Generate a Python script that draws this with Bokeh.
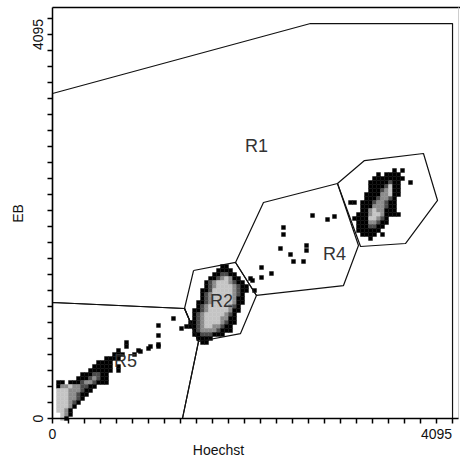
import math
from bokeh.plotting import figure
from bokeh.models import Range1d
from bokeh.core.properties import value
from bokeh.embed import file_html
from bokeh.resources import INLINE

FONT = "Liberation Sans"
PX = 4095 / 384          # channel units per screen pixel
BIN = 4095 / 96          # width of one display channel bin
X_END, Y_END = 4330, 4383

# Binned event density (top row first). '.' = no events, 1..4 = rising density.
r3_origin = (3114, 2666)
r3_rows = [
    "............1.1...",
    "........1.1111....",
    ".......11111111...",
    "......11111211..1.",
    "......11112411....",
    "......11123411....",
    ".....111133411....",
    ".....11123321.....",
    ".11.111233211.....",
    "....111333211.....",
    "....113433111.....",
    "...11134431111....",
    "..111144321.......",
    "...11133211.......",
    "...1112211........",
    "...111111.........",
    "....1111.1........",
    "......1...........",
]

r2_origin = (1408, 1642)
r2_rows = [
    ".........11.......",
    "........1111......",
    ".......112211.....",
    "......11234311..1.",
    ".....1234443211...",
    ".....12344443211..",
    "....112444443211.1",
    "....12344444321...",
    "....12344444311...",
    "...112344444311...",
    "...12344444321....",
    "..112344444311....",
    "..12344444321.....",
    "..12344443311.....",
    ".112344443211.....",
    ".11234433211......",
    "..1233332111......",
    "..11222111........",
    "...1111...........",
    "....11............",
]

r5_origin = (0, 832)
r5_rows = [
    "..................1.........",
    "..................1.....1.1.",
    "................1....1......",
    "...............111..1.......",
    ".............1111...........",
    "...........1111.............",
    "..........11111.1...........",
    ".........111111.1...........",
    ".......1112211..............",
    "......11123211..............",
    ".11.1112332111..............",
    ".1334332211.................",
    ".444333211..................",
    ".44433211...................",
    ".4443321....................",
    ".444321.....................",
    ".44431......................",
    ".4431.......................",
    "..431.......................",
    "..41........................",
]

# Sparse single events between the populations
ev_x = [938, 1024, 1130, 1130, 1130, 1290, 1376, 1429,
        2133, 2229, 2229, 2335, 2431, 2463, 2463, 2538, 2570, 2677,
        2709, 2709, 2773, 2933, 3007]
ev_y = [714, 746, 789, 885, 992, 1066, 960, 981,
        1472, 1504, 1610, 1546, 1813, 2037, 1962, 1749, 1674, 1674,
        1845, 1792, 2165, 2122, 2154]

# Gate polygons (Hoechst, EB)
gate_r1_x = [0, 2751, 4266, 4266, 1386, 1557, 1408, 0]
gate_r1_y = [3466, 4212, 4212, 0, 0, 821, 1173, 1237]
gate_r2_x = [1504, 1952, 2175, 2005, 1557, 1408]
gate_r2_y = [1578, 1664, 1312, 906, 821, 1173]
gate_r3_x = [3039, 3327, 3956, 4106, 3764, 3285]
gate_r3_y = [2506, 2751, 2826, 2325, 1866, 1834]
gate_r4_x = [1952, 2250, 3039, 3263, 3103, 2175]
gate_r4_y = [1664, 2303, 2506, 1845, 1418, 1312]
gate_r5_x = [0, 1408, 1557, 1386, 0]
gate_r5_y = [1237, 1173, 821, 0, 0]

gate_names = ["R1", "R2", "R4", "R5"]
gate_label_x = [2176, 1802, 3007, 778]
gate_label_y = [2911, 1258, 1749, 608]

# scale: a tick every 1/24 of the channel range, only the ends labelled
ticks = [i * 4095 / 24 for i in range(26)]
tick_labels = ["0", "4095"]
tick_label_pos = [0, 4095]

level_colors = {1: "#000000", 2: "#4a4a4a", 3: "#8c8c8c", 4: "#c4c4c4"}


def expand(origin, rows):
    x0, ytop = origin
    xs, ys, cs = [], [], []
    for r, row in enumerate(rows):
        for c, ch in enumerate(row):
            if ch != ".":
                xs.append(x0 + (c + 0.5) * BIN)
                ys.append(ytop - (r + 0.5) * BIN)
                cs.append(level_colors[int(ch)])
    return xs, ys, cs


# the plotting area spans the whole canvas; the scales are drawn in channel space
p = figure(width=460, height=462,
           x_range=Range1d(-52 * PX, 408 * PX), y_range=Range1d(-44 * PX, 418 * PX),
           x_axis_type=None, y_axis_type=None,
           output_backend="svg", toolbar_location=None, min_border=0)
p.outline_line_color = None
p.background_fill_color = "white"
p.border_fill_color = "white"

# events
dx, dy, dc = [], [], []
for origin, rows in [(r5_origin, r5_rows), (r2_origin, r2_rows), (r3_origin, r3_rows)]:
    xs, ys, cs = expand(origin, rows)
    dx += xs; dy += ys; dc += cs
dx += ev_x; dy += ev_y; dc += [level_colors[1]] * len(ev_x)
p.rect(x=dx, y=dy, width=BIN, height=BIN, fill_color=dc, line_color=dc, line_width=0.4)

# gates
for gx, gy in [(gate_r1_x, gate_r1_y), (gate_r2_x, gate_r2_y), (gate_r3_x, gate_r3_y),
               (gate_r4_x, gate_r4_y), (gate_r5_x, gate_r5_y)]:
    p.line(x=gx + gx[:1], y=gy + gy[:1], line_color="#111111", line_width=1.2)

p.text(x=gate_label_x, y=gate_label_y, text=gate_names,
       text_font=value(FONT), text_font_size="18px", text_color="#333333",
       text_align="center", text_baseline="middle")

# plot frame: top edge dark, right edge faint
p.line(x=[0, 408 * PX], y=[Y_END, Y_END], line_color="#000000", line_width=1.5)
p.line(x=[X_END, X_END], y=[0, Y_END], line_color="#cccccc", line_width=1)

# axes: lines plus short outward tick bars
n = len(ticks)
p.line(x=[0, X_END], y=[0, 0], line_color="#000000", line_width=1.5)
p.line(x=[0, 0], y=[0, Y_END], line_color="#000000", line_width=1.5)
p.rect(x=ticks, y=[-2.5 * PX] * n, width=1.5, height=5,
       width_units="screen", height_units="screen",
       fill_color="#000000", line_color=None)
p.rect(x=[-2.5 * PX] * n, y=ticks, width=5, height=1.5,
       width_units="screen", height_units="screen",
       fill_color="#000000", line_color=None)

label_style = dict(text_font=value(FONT), text_font_size="14px", text_color="#111111",
                   text_align="center", text_baseline="middle")
p.text(x=tick_label_pos, y=[-15 * PX] * 2, text=tick_labels, **label_style)
p.text(x=[-15 * PX] * 2, y=tick_label_pos, text=tick_labels, angle=math.pi / 2, **label_style)
p.text(x=[166 * PX], y=[-31 * PX], text=["Hoechst"], **label_style)
p.text(x=[-35 * PX], y=[205 * PX], text=["EB"], angle=math.pi / 2, **label_style)

open("out.html", "w").write(file_html(p, INLINE))
